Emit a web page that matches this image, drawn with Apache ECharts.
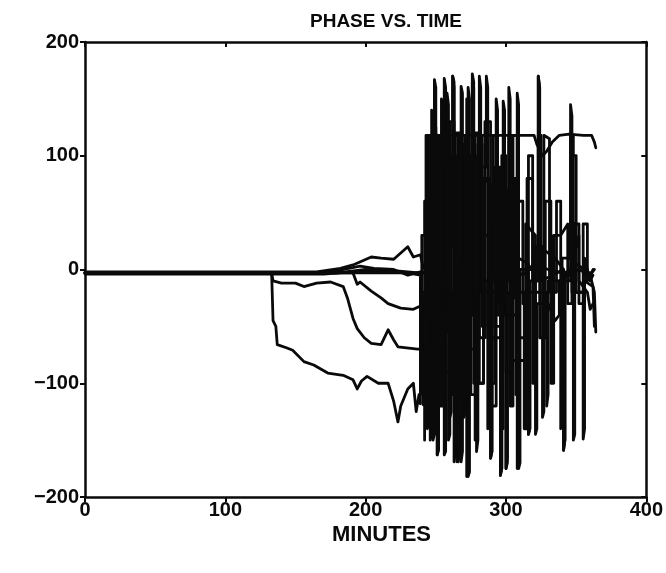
<!DOCTYPE html>
<html><head><meta charset="utf-8">
<script src="https://cdn.jsdelivr.net/npm/echarts@6/dist/echarts.min.js"></script>
<style>html,body{margin:0;padding:0;background:#fff}#c{width:666px;height:573px}</style>
</head><body><div id="c"></div>
<script>
const title = 'PHASE VS. TIME';
const xName = 'MINUTES';
const xTicks = [0, 100, 200, 300, 400];
const yTicks = [-200, -100, 0, 100, 200];

// [minutes, phase (deg)] per receiver
const rx1 = [[0,-3],[133,-3],[134,-45],[136,-50],[137,-66],[144,-69],[148,-71],[156,-81],[163,-84],[173,-91],[184,-93],[191,-97],[194,-105],[197,-98],[201,-94],[209,-100],[216,-100],[220,-116],[223,-134],[225,-120],[230,-105],[234,-100],[236,-125],[238,-110],
 [239,-118],[239,-20],[242,-25],[242,-150],[243,-150],[243,60],[248,55],[248,-150],[249,-145],[249,120],[251,118],[251,-163],[252,-158],[252,-60],[258,-55],[258,60],[262,55],[262,170],[263,160],[263,25],[265,25],[265,-169],[266,-165],[266,90],[272,85],[272,-182],[273,-178],[273,-40],[276,-40],[276,165],[277,160],[277,60],[281,50],[281,-100],[284,-100],[284,80],[289,75],[289,-166],[290,-160],[290,-20],[296,-20],[296,-181],[297,-175],[297,-10],[300,-10],[300,-175],[301,-170],[301,-20],[306,-25],[306,80],[308,80],[308,-175],[309,-170],[309,10],[316,5],[316,-145],[317,-140],[317,-10],[323,-10],[323,118],[325,118],[325,-10],[333,-5],[341,0],[341,-159],[342,-150],[342,-5],[350,5],[356,0],[360,-5],[363,-20],[364,-55]];
const rx2 = [[0,-2],[165,-2],[182,1],[191,4],[204,11],[211,10],[220,9],[230,20],[234,11],[239,13],[241,2],[243,0],[243,118],[320,118],[322,110],[326,100],[329,104],[333,112],[338,118],[345,119],[355,118],[361,118],[363,112],[364,107]];
const rx3 = [[0,-3],[170,-3],[180,-1],[196,3],[206,1],[220,0],[230,-5],[239,-2],
 [243,-3],[243,-97],[245,-95],[245,40],[249,40],[249,167],[250,160],[250,-60],[253,-60],[253,100],[256,100],[256,-163],[257,-160],[257,20],[262,20],[262,170],[263,165],[263,-30],[268,-30],[268,161],[269,155],[269,-50],[273,-50],[273,-182],[274,-178],[274,50],[281,50],[281,170],[282,160],[282,-20],[289,-20],[289,-166],[290,-160],[290,40],[298,40],[298,148],[299,140],[299,-40],[309,-40],[309,-175],[310,-170],[310,0],[323,0],[323,170],[324,160],[324,20],[335,10],[341,0],[341,-159],[342,-150],[342,-5],[352,0],[360,-5],[363,0]];
const rx4 = [[0,-3],[191,-3],[194,-13],[196,-11],[204,-19],[211,-25],[216,-30],[225,-34],[234,-35],[241,-31],
 [241,-119],[242,-115],[242,60],[246,60],[246,-150],[247,-145],[247,118],[251,115],[251,-163],[252,-158],[252,70],[256,70],[256,168],[257,160],[257,-90],[263,-90],[263,-169],[264,-160],[264,80],[272,80],[272,150],[273,140],[273,-70],[278,-70],[278,-150],[279,-140],[279,90],[286,90],[286,170],[287,160],[287,-60],[296,-60],[296,-181],[297,-175],[297,30],[302,30],[302,160],[303,150],[303,-80],[316,-80],[316,-145],[317,-140],[317,-20],[329,-20],[329,-120],[330,-110],[330,-10],[346,-10],[346,145],[347,135],[347,-20],[355,-20],[355,-149],[356,-140],[356,-10],[362,-15],[363,-50]];
const rx5 = [[0,-3],[133,-3],[134,-10],[140,-12],[150,-12],[156,-15],[165,-12],[175,-11],[184,-15],[187,-25],[189,-34],[191,-43],[194,-52],[199,-60],[204,-65],[211,-66],[216,-53],[220,-62],[223,-68],[237,-70],[240,-70],
 [240,-20],[244,-20],[244,-140],[245,-135],[245,10],[248,10],[248,130],[250,125],[250,-110],[254,-110],[254,150],[255,145],[255,-40],[260,-40],[260,-130],[261,-125],[261,60],[266,60],[266,-169],[267,-160],[267,110],[270,110],[270,-10],[276,-10],[276,172],[277,165],[277,-100],[284,-100],[284,30],[290,30],[290,-120],[293,-120],[293,150],[294,140],[294,-30],[300,-30],[300,-175],[301,-165],[301,70],[308,70],[308,155],[309,145],[309,-60],[314,-60],[314,40],[321,30],[321,-145],[322,-140],[322,-30],[330,-30],[335,-45],[338,-40],[338,-10],[345,-5],[350,20],[352,30],[352,-10],[358,-20],[360,-35],[362,-30]];
const rx6 = [[0,-4],[170,-4],[190,-2],[220,-1],[238,-3],[244,-3],
 [244,118],[246,118],[246,-60],[250,-60],[250,50],[253,50],[253,-120],[255,-120],[255,90],[259,90],[259,-150],[260,-145],[260,130],[263,130],[263,-50],[266,-50],[266,100],[270,100],[270,-130],[271,-125],[271,60],[275,60],[275,-110],[278,-110],[278,120],[281,120],[281,-60],[285,-60],[285,130],[289,130],[289,-100],[292,-100],[292,90],[296,90],[296,-140],[298,-140],[298,20],[303,20],[303,-120],[305,-120],[305,118],[308,118],[308,-20],[313,-20],[313,-140],[315,-140],[315,80],[319,80],[319,-100],[321,-100],[321,20],[326,20],[326,-130],[327,-125],[327,118],[331,115],[331,-20],[336,-20],[336,60],[339,60],[339,-140],[340,-135],[340,10],[346,10],[346,118],[348,118],[348,-150],[349,-145],[349,40],[352,40],[352,-30],[356,-30],[356,10],[360,-10],[362,-5]];
const rx7 = [[0,-3],[180,-3],[200,0],[230,-3],[239,-5],
 [239,-110],[240,-105],[240,30],[243,30],[243,-40],[247,-40],[247,140],[248,130],[248,-90],[252,-90],[252,20],[258,20],[258,155],[259,145],[259,-20],[262,-20],[262,-110],[264,-110],[264,120],[268,120],[268,-169],[269,-160],[269,10],[273,10],[273,160],[274,150],[274,-40],[279,-40],[279,-160],[280,-150],[280,110],[283,110],[283,-10],[287,-10],[287,-140],[288,-130],[288,60],[292,60],[292,-50],[297,-50],[297,100],[300,100],[300,-90],[304,-90],[304,50],[307,50],[307,-110],[309,-110],[309,60],[312,60],[312,-30],[316,-30],[316,100],[319,100],[319,-10],[323,-10],[323,170],[324,160],[324,-60],[328,-60],[328,60],[332,60],[332,-100],[334,-100],[334,30],[339,30],[344,40],[344,-30],[347,-30],[347,100],[350,100],[350,-20],[355,-20],[355,40],[358,40],[358,-10],[362,0]];
const rx8 = [[0,-3],[238,-3],[252,-3],[252,118],[254,118],[254,-40],[257,-40],[257,118],[259,118],[259,-20],[261,-20],[261,100],[264,100],[264,-60],[266,-60],[266,118],[268,118],[268,0],[271,0],[271,118],[273,118],[273,-30],[275,-30],[275,100],[278,100],[278,-20],[280,-20],[280,118],[283,118],[283,-50],[285,-50],[285,80],[288,80],[288,-10],[291,-10],[291,118],[294,118],[294,-40],[297,-40],[297,60],[299,60],[299,-10],[302,-10],[302,118],[304,118],[304,0],[306,0],[312,-5],[320,5],[330,0],[340,-3],[350,0],[360,-3]];

const receivers = [rx1, rx2, rx3, rx4, rx5, rx6, rx7, rx8];
const FONT = '"Liberation Sans", Arial, sans-serif';
const ink = '#0a0a0a';
const lab = {color: ink, fontFamily: FONT, fontWeight: 'bold', fontSize: 20};
const minus = v => String(v).replace('-', '\u2212');

const chart = echarts.init(document.getElementById('c'), null, {renderer: 'canvas'});
const frame = {onZero: false, lineStyle: {color: ink, width: 2.5}};
chart.setOption({
  backgroundColor: '#fff',
  animation: false,
  title: {text: title, left: 381, top: 7, textAlign: 'center',
    textStyle: {color: ink, fontFamily: FONT, fontWeight: 'bold', fontSize: 19}},
  graphic: [{type: 'text', left: 332, top: 524,
    style: {text: xName, fill: ink, font: 'bold 22px ' + FONT}}],
  grid: {left: 85, right: 19, top: 42, bottom: 76, containLabel: false},
  xAxis: [
    {type: 'value', min: xTicks[0], max: xTicks[xTicks.length-1], interval: 100, position: 'bottom',
     axisLine: frame, axisTick: {inside: false, length: 5, lineStyle: {color: ink, width: 2}},
     axisLabel: Object.assign({margin: 3, formatter: minus}, lab), splitLine: {show: false}},
    {type: 'value', min: 0, max: 400, interval: 100, position: 'top',
     axisLine: frame, axisTick: {inside: true, length: 5, lineStyle: {color: ink, width: 2}},
     axisLabel: {show: false}, splitLine: {show: false}}
  ],
  yAxis: [
    {type: 'value', min: yTicks[0], max: yTicks[yTicks.length-1], interval: 100, position: 'left',
     axisLine: frame, axisTick: {inside: false, length: 5, lineStyle: {color: ink, width: 2}},
     axisLabel: Object.assign({margin: 6, formatter: minus}, lab), splitLine: {show: false}},
    {type: 'value', min: -200, max: 200, interval: 100, position: 'right',
     axisLine: frame, axisTick: {inside: true, length: 5, lineStyle: {color: ink, width: 2}},
     axisLabel: {show: false}, splitLine: {show: false}}
  ],
  series: receivers.map(d => ({
    type: 'line', data: d, xAxisIndex: 0, yAxisIndex: 0, showSymbol: false, symbol: 'none',
    lineStyle: {color: ink, width: 2.8, join: 'round', cap: 'round'}, silent: true
  }))
});
</script></body></html>
